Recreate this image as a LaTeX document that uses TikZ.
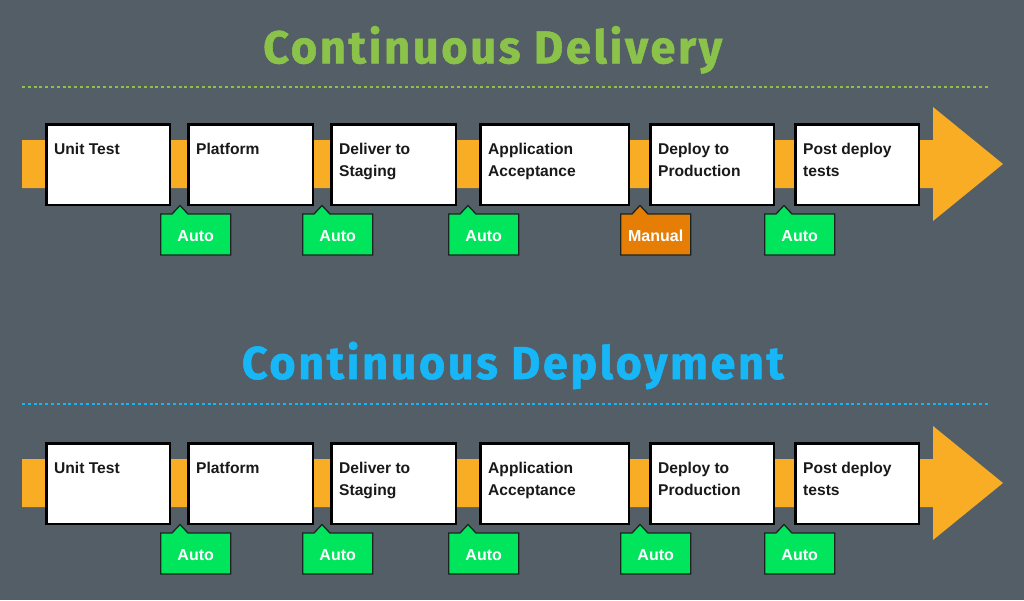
\documentclass[tikz,border=0pt]{standalone}
\usepackage{fontspec}
\setmainfont{Liberation Sans}
\newfontfamily\titlefont{Fira Sans}[LetterSpace=6, BoldFeatures={FakeBold=1.2}]
\usetikzlibrary{calc}
\definecolor{bg}{HTML}{535E66}
\definecolor{band}{HTML}{F9AD24}
\definecolor{autog}{HTML}{00E55B}
\definecolor{manualo}{HTML}{E67E06}
\definecolor{titleg}{HTML}{8BC34A}
\definecolor{titleb}{HTML}{17B7F7}
\definecolor{tabline}{HTML}{1A2420}
\newlength\fitw
\newcommand\fittext[2]{\settowidth\fitw{#2}\pgfmathsetmacro\fitsx{#1/\fitw}\scalebox{\fitsx}[1]{#2}}
\newcommand\titlefnt{\titlefont\bfseries\fontsize{46}{46}\selectfont}
\tikzset{
  stepbox/.style={draw=black, line width=2.5pt, fill=white, minimum height=80.5pt, inner sep=0pt},
  steplabel/.style={font=\bfseries\fontsize{15.6}{22.7}\selectfont, text=black!90, align=left, inner sep=0pt, anchor=north west},
  tabtext/.style={font=\bfseries\fontsize{16}{16}\selectfont, text=white, inner sep=0pt, anchor=base},
  tabshape/.style={draw=tabline, line width=1.3pt},
  dotline/.style={line width=2pt, dash pattern=on 3pt off 2.8pt},
}
\newcommand\pipeline[4]{%
\begin{scope}[yshift=-#2pt]
  \fill[band] (22,140) -- (933,140) -- (933,107) -- (1003,164) -- (933,221) -- (933,188) -- (22,188) -- cycle;
  \foreach \n/\xa/\xb/\txt in {1/45/171/{Unit Test}, 2/187/314/{Platform}, 3/330/457/{Deliver to\\Staging}, 4/479/630/{Application\\Acceptance}, 5/649/775/{Deploy to\\Production}, 6/794/920/{Post deploy\\tests}}{
    \node[stepbox, minimum width={\xb-\xa-2.5}] (box#1\n) at ({(\xa+\xb)/2},164.5) {};
    \node[steplabel] (lbl#1\n) at ($(box#1\n.north west)+(9,19.6)$) {\txt};
  }
  \foreach \n/\p/\c/\t in {1/180/autog/Auto, 2/322/autog/Auto, 3/468/autog/Auto, 4/640/#3/#4, 5/784/autog/Auto}{
    \filldraw[tabshape, fill=\c] ({\p-19.3},214) -- ({\p-8},214) -- (\p,205.5) -- ({\p+8},214) -- ({\p+50.7},214) -- ({\p+50.7},255) -- ({\p-19.3},255) -- cycle;
    \node[tabtext] (tab#1\n) at ({\p+15.7},241.5) {\t};
  }
\end{scope}}
\begin{document}
\begin{tikzpicture}[x=1pt,y=-1pt]
\fill[bg] (0,0) rectangle (1024,600);
\useasboundingbox (0,0) rectangle (1024,600);
\node[anchor=base west, text=titleg, inner sep=0pt] (title1) at (263,63.3) {\fittext{459pt}{\titlefnt Continuous Delivery}};
\draw[dotline, titleg] (22,86.7) -- (989,86.7);
\node[anchor=base west, text=titleb, inner sep=0pt] (title2) at (241.7,379) {\fittext{542pt}{\titlefnt Continuous Deployment}};
\draw[dotline, titleb] (22,404) -- (989,404);
\pipeline{a}{0}{manualo}{Manual}
\pipeline{b}{319}{autog}{Auto}
\end{tikzpicture}
\end{document}
